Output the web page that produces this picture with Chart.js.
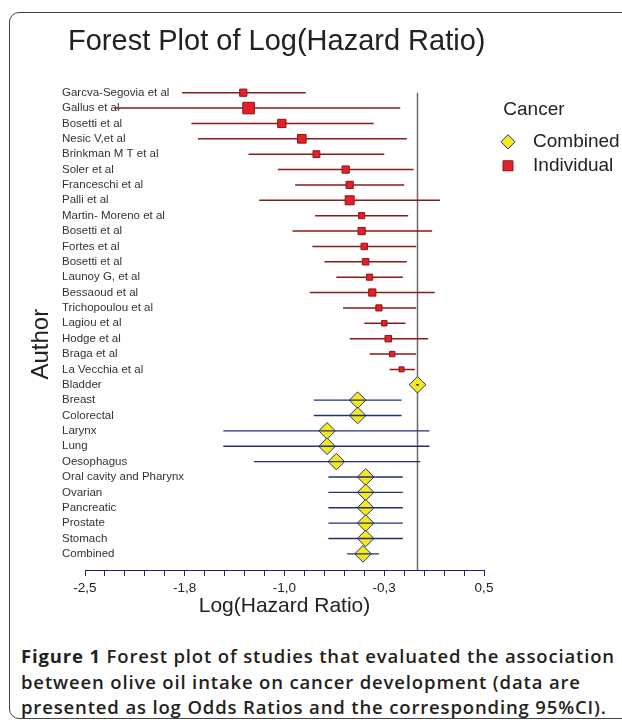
<!DOCTYPE html>
<html>
<head>
<meta charset="utf-8">
<script src="https://cdn.jsdelivr.net/npm/chart.js@4.4.0/dist/chart.umd.min.js"></script>
<style>
  body { margin: 0; width: 622px; height: 724px; overflow: hidden; background: #fff; position: relative; }
  #frame { position: absolute; left: 9px; top: 12px; width: 660px; height: 705px; border: 1px solid #444; border-radius: 10px; }
  #title { position: absolute; left: 68px; top: 24px; font: 29px "Liberation Sans", Arial, sans-serif; color: #222; white-space: nowrap; }
  #chart { position: absolute; left: 0; top: 0; }
  #caption { position: absolute; left: 21px; top: 643px; font: 600 18.5px "Open Sans", sans-serif; letter-spacing: 0.85px; line-height: 25.5px; color: #231f20; white-space: nowrap; }
  #caption b { font-weight: 700; }
</style>
</head>
<body>
<div id="frame"></div>
<canvas id="chart" width="650" height="640"></canvas>
<div id="title">Forest Plot of Log(Hazard Ratio)</div>
<div id="caption"><b>Figure 1</b> Forest plot of studies that evaluated the association<br>between olive oil intake on cancer development (data are<br>presented as log Odds Ratios and the corresponding 95%CI).</div>
<script>
// individual studies
const authors = ['Garcva-Segovia et al', 'Gallus et al', 'Bosetti et al', 'Nesic V,et al', 'Brinkman M T et al',
  'Soler et al', 'Franceschi et al', 'Palli et al', 'Martin- Moreno et al', 'Bosetti et al', 'Fortes et al',
  'Bosetti et al', 'Launoy G, et al', 'Bessaoud et al', 'Trichopoulou et al', 'Lagiou et al', 'Hodge et al',
  'Braga et al', 'La Vecchia et al'];
const studyLogHR = [-1.31, -1.27, -1.02, -0.87, -0.76, -0.54, -0.51, -0.51, -0.42, -0.42, -0.40, -0.39, -0.36, -0.34, -0.29, -0.25, -0.22, -0.19, -0.12];
const studyLower = [-1.77, -2.28, -1.70, -1.65, -1.27, -1.05, -0.92, -1.19, -0.77, -0.94, -0.79, -0.70, -0.61, -0.81, -0.56, -0.40, -0.51, -0.36, -0.21];
const studyUpper = [-0.84, -0.13, -0.33, -0.08, -0.25, -0.03, -0.10, 0.17, -0.07, 0.11, -0.01, -0.08, -0.11, 0.13, -0.01, -0.09, 0.08, -0.01, -0.02];
const studyWeight = [1.0, 1.6, 1.15, 1.2, 0.95, 1.0, 1.0, 1.25, 0.85, 1.0, 0.9, 0.9, 0.85, 1.0, 0.85, 0.75, 0.9, 0.75, 0.7];

// pooled by cancer site
const cancers = ['Bladder', 'Breast', 'Colorectal', 'Larynx', 'Lung', 'Oesophagus', 'Oral cavity and Pharynx',
  'Ovarian', 'Pancreatic', 'Prostate', 'Stomach', 'Combined'];
const cancerLogHR = [0.00, -0.45, -0.45, -0.68, -0.68, -0.61, -0.39, -0.39, -0.39, -0.39, -0.39, -0.41];
const cancerLower = [-0.01, -0.78, -0.78, -1.46, -1.46, -1.23, -0.67, -0.67, -0.67, -0.67, -0.67, -0.53];
const cancerUpper = [0.01, -0.12, -0.12, 0.09, 0.09, 0.02, -0.11, -0.11, -0.11, -0.11, -0.11, -0.29];

const xTickLabels = ['-2,5', '-1,8', '-1,0', '-0,3', '0,5'];

const rowLabels = authors.concat(cancers);
const yMin = -0.5, yMax = 31.05;

// build points + CI segments (null breaks the line)
var studyPoints = [], studyCI = [];
authors.forEach(function(a, i) {
    studyPoints.push({x: studyLogHR[i], y: i});
    studyCI.push({x: studyLower[i], y: i}, {x: studyUpper[i], y: i}, {x: null, y: null});
});
var cancerPoints = [], cancerCI = [];
cancers.forEach(function(c, j) {
    var row = authors.length + j;
    cancerPoints.push({x: cancerLogHR[j], y: row});
    cancerCI.push({x: cancerLower[j], y: row}, {x: cancerUpper[j], y: row}, {x: null, y: null});
});

Chart.defaults.font.family = '"Liberation Sans", Arial, sans-serif';
Chart.defaults.color = '#222';

var ctx = document.getElementById('chart');
var forest = new Chart(ctx, {
    type: 'scatter',
    data: {
        datasets: [
            {type: 'line', label: 'ref', data: [{x: 0, y: 0}, {x: 0, y: yMax}], borderColor: '#6b6b6b', borderWidth: 1.5, pointRadius: 0, order: 6},
            {type: 'line', label: 'study CI', data: studyCI, borderColor: '#8b1a1a', borderWidth: 1.5, pointRadius: 0, spanGaps: false, order: 5},
            {label: 'Individual', data: studyPoints, pointStyle: 'rect', pointRadius: studyWeight.map(function(w) { return w * 5.1; }),
                backgroundColor: '#e5202a', borderColor: '#8b1515', borderWidth: 1, order: 4},
            {label: 'Combined', data: cancerPoints, pointStyle: 'rectRot', pointRadius: 8.3,
                backgroundColor: '#f2ea1d', borderColor: '#2a2f7a', borderWidth: 1, order: 3},
            {type: 'line', label: 'cancer CI', data: cancerCI, borderColor: '#262f72', borderWidth: 1.3, pointRadius: 0, spanGaps: false, order: 2}
        ]
    },
    options: {
        responsive: false,
        animation: false,
        events: [],
        layout: {padding: {left: 20, top: 85, right: 28, bottom: 13}},
        scales: {
            x: {
                type: 'linear', min: -2.5, max: 0.5,
                afterBuildTicks: function(s) {
                    s.ticks = Array.from({length: 21}, function(_, k) { return {value: -2.5 + k * 0.15}; });
                },
                afterFit: function(s) { s.height = 57; },
                grid: {drawOnChartArea: false, tickLength: 6, color: '#1f2366', lineWidth: 1},
                border: {color: '#1f2366', width: 1},
                ticks: {
                    autoSkip: false, maxRotation: 0, padding: 4, color: '#222', font: {size: 13.5},
                    callback: function(v, i) { return i % 5 === 0 ? xTickLabels[i / 5] : ''; }
                },
                title: {display: true, text: 'Log(Hazard Ratio)', color: '#222', font: {size: 21}, padding: {top: 4, bottom: 8}}
            },
            y: {
                type: 'linear', reverse: true, min: yMin, max: yMax,
                afterBuildTicks: function(s) {
                    s.ticks = rowLabels.map(function(_, i) { return {value: i}; });
                },
                afterFit: function(s) { s.width = 65; },
                grid: {display: false},
                border: {display: false},
                ticks: {
                    mirror: true, padding: -23, autoSkip: false, color: '#333', font: {size: 11.5},
                    callback: function(v) { return rowLabels[v]; }
                },
                // trailing spaces push the word a little lower, as in the original
                title: {display: true, text: 'Author\u00a0\u00a0\u00a0\u00a0\u00a0', color: '#222', font: {size: 24}, padding: {top: 7, bottom: 0}}
            },
            // empty spacer between plot and legend
            gap: {
                type: 'linear', position: 'right', display: true,
                grid: {display: false}, border: {display: false}, ticks: {display: false},
                afterFit: function(s) { s.width = 14; }
            }
        },
        plugins: {
            tooltip: {enabled: false},
            legend: {
                position: 'right', align: 'start', maxWidth: 124,
                title: {display: true, text: ' Cancer', color: '#222', font: {size: 19}, position: 'start', padding: {top: 15.5, bottom: 4}},
                labels: {
                    usePointStyle: true, boxWidth: 10, boxHeight: 10, padding: 5, color: '#222', font: {size: 19},
                    generateLabels: function(chart) {
                        var items = Chart.defaults.plugins.legend.labels.generateLabels(chart);
                        return items.filter(function(it) { return it.text === 'Combined' || it.text === 'Individual'; })
                            .map(function(it) { it.text = '  ' + it.text; return it; });
                    }
                }
            }
        }
    }
});
</script>
</body>
</html>
